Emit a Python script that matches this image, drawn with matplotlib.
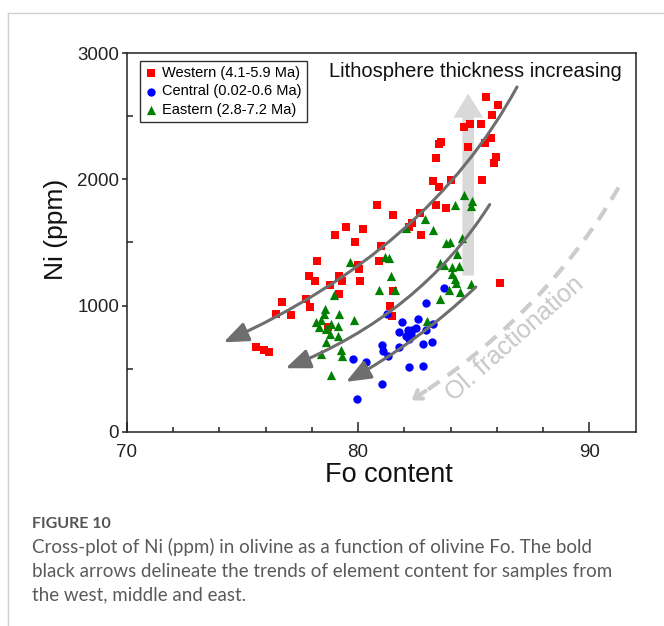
import numpy as np
import matplotlib
matplotlib.use("Agg")
import matplotlib.pyplot as plt
from matplotlib.patches import FancyArrowPatch, FancyArrow
from matplotlib.path import Path
from matplotlib.lines import Line2D

# -------- Data: olivine Fo vs Ni (ppm) --------
west_fo = [85.52, 86.06, 85.80, 85.30, 84.82, 84.58, 85.73, 85.49, 84.74, 83.58,
           83.50, 83.39, 85.95, 85.87, 85.37, 83.25, 84.02, 83.50, 83.39, 83.79,
           80.80, 81.52, 82.67, 82.33, 82.18, 82.73, 80.20, 79.48, 78.99, 79.88,
           80.99, 78.22, 80.89, 80.00, 80.03, 77.90, 78.12, 79.19, 79.31, 80.08,
           78.79, 79.16, 76.72, 77.76, 77.93, 76.46, 77.11, 81.38, 81.46, 81.49,
           75.57, 75.93, 76.15, 86.15, 78.69]
west_ni = [2654, 2590, 2511, 2443, 2443, 2417, 2332, 2292, 2258, 2300,
           2280, 2166, 2174, 2134, 1995, 1990, 1995, 1937, 1797, 1773,
           1797, 1721, 1731, 1652, 1620, 1557, 1607, 1620, 1563, 1507,
           1476, 1357, 1357, 1325, 1291, 1231, 1194, 1238, 1194, 1194,
           1167, 1094, 1028, 1054, 989, 930, 928, 996, 920, 1115,
           672, 646, 635, 1178, 830]

cent_fo = [83.72, 82.93, 81.23, 81.90, 82.61, 83.22, 81.75, 82.15, 82.35, 82.52,
           82.07, 82.21, 82.93, 81.03, 82.79, 83.19, 81.78, 81.06, 81.29, 79.77,
           80.34, 82.21, 82.79, 81.03, 79.94, 82.29]
cent_ni = [1141, 1022, 930, 867, 893, 851, 788, 804, 809, 825,
           762, 736, 804, 685, 693, 714, 672, 640, 604, 580,
           554, 514, 519, 377, 256, 765]

east_fo = [84.57, 84.93, 84.90, 84.19, 82.90, 82.06, 83.26, 83.79, 83.98, 84.51,
           84.29, 81.18, 81.32, 79.65, 83.53, 83.72, 84.05, 84.37, 84.08, 84.19,
           84.25, 84.87, 83.94, 84.40, 83.53, 81.43, 81.61, 80.92, 78.98, 79.19,
           78.55, 78.51, 78.19, 78.41, 78.30, 78.62, 78.84, 79.12, 78.79, 79.12,
           78.62, 79.81, 83.00, 79.27, 79.31, 78.40, 78.83]
east_ni = [1879, 1831, 1792, 1800, 1686, 1615, 1599, 1494, 1507, 1536,
           1410, 1383, 1378, 1344, 1336, 1318, 1305, 1310, 1252, 1212,
           1178, 1173, 1125, 1107, 1054, 1231, 1120, 1125, 1080, 936,
           975, 936, 870, 883, 830, 817, 851, 836, 778, 759,
           712, 888, 877, 646, 598, 614, 453]

labels = ["Western (4.1-5.9 Ma)", "Central (0.02-0.6 Ma)", "Eastern (2.8-7.2 Ma)"]

# trend arrows: tail, mid-curve point, tip (Fo, Ni)
trend_arrows = [
    [(86.87, 2733), (81.78, 1579), (74.19, 709)],
    [(85.69, 1801), (81.98, 1040), (76.87, 503)],
    [(85.09, 1147), (82.45, 743), (79.48, 395)],
]
# olivine fractionation trend (dashed)
ol_trend = [(91.26, 1936), (87.38, 1002), (82.21, 237)]
# lithosphere arrow: x, base, top
litho_x, litho_y0, litho_y1 = 84.76, 1238, 2680

caption_title = "FIGURE 10"
caption_lines = [
    "Cross-plot of Ni (ppm) in olivine as a function of olivine Fo. The bold",
    "black arrows delineate the trends of element content for samples from",
    "the west, middle and east.",
]

plt.rcParams["font.family"] = ["Liberation Sans", "DejaVu Sans"]

fig = plt.figure(figsize=(6.64, 6.26), dpi=100)
W, H = 664, 626
ax = fig.add_axes([126.7 / W, 1 - 431.7 / H, 509 / W, 378.4 / H])


def bezier(p0, pm, p2, n=100):
    p0, pm, p2 = np.array(p0, float), np.array(pm, float), np.array(p2, float)
    c = 2 * pm - (p0 + p2) / 2
    t = np.linspace(0, 1, n)[:, None]
    return (1 - t) ** 2 * p0 + 2 * (1 - t) * t * c + t ** 2 * p2, c


# lithosphere thickness arrow (behind points)
ax.add_patch(FancyArrow(litho_x, litho_y0, 0, litho_y1 - litho_y0, width=0.50,
                        head_width=1.29, head_length=190, length_includes_head=True,
                        color="#d9d9d9", lw=0, zorder=1))

# Ol. fractionation dashed curve
pts, _ = bezier(*ol_trend)
ax.plot(pts[:-3, 0], pts[:-3, 1], color="#cccccc", lw=3, dashes=(3.4, 2.4),
        solid_capstyle="butt", zorder=1)
ax.annotate("", xy=pts[-1], xytext=pts[-8],
            arrowprops=dict(arrowstyle="->,head_length=0.5,head_width=0.35",
                            color="#cccccc", lw=3), zorder=1)

# scatter
ax.scatter(west_fo, west_ni, marker="s", s=27, color="#ff0000", lw=0, zorder=3, label=labels[0])
ax.scatter(cent_fo, cent_ni, marker="o", s=36, color="#0000ff", lw=0, zorder=3, label=labels[1])
ax.scatter(east_fo, east_ni, marker="^", s=44, color="#008000", lw=0, zorder=3, label=labels[2])

# trend arrows
for tail, mid, tip in trend_arrows:
    _, c = bezier(tail, mid, tip)
    path = Path([tail, tuple(c), tip], [Path.MOVETO, Path.CURVE3, Path.CURVE3])
    ax.add_patch(FancyArrowPatch(path=path,
                                 arrowstyle="-|>,head_length=15,head_width=6",
                                 mutation_scale=1, color="#6e6e6e", lw=2.2, zorder=4))

ax.text(0.397, 0.951, "Lithosphere thickness increasing", transform=ax.transAxes,
        fontsize=14.5, ha="left", va="center", color="#111111", zorder=5)
ax.text(0.763, 0.245, "Ol. fractionation", transform=ax.transAxes, fontsize=18,
        rotation=41.5, rotation_mode="anchor", ha="center", va="center",
        color="#c8c8c8", zorder=1)

ax.set_xlim(70, 92)
ax.set_ylim(0, 3000)
ax.set_xticks([70, 80, 90])
ax.set_xticks(np.arange(72, 92, 2), minor=True)
ax.set_yticks([0, 1000, 2000, 3000])
ax.set_yticks([500, 1500, 2500], minor=True)
ax.tick_params(axis="x", which="major", direction="in", length=7, width=1.1,
               labelsize=13.5, pad=9, top=False, colors="#222222")
ax.tick_params(axis="x", which="minor", direction="in", length=3.5, width=1.1, top=False,
               colors="#222222")
ax.tick_params(axis="y", which="major", direction="out", length=3.5, width=1.1,
               labelsize=13.5, pad=2, right=False, colors="#222222")
ax.tick_params(axis="y", which="minor", direction="in", length=4.5, width=1.1, right=False,
               colors="#222222")
for sp in ax.spines.values():
    sp.set_linewidth(1.1)
    sp.set_color("#222222")

fig.text(389 / W, 1 - 475 / H, "Fo content", fontsize=19.5, ha="center", va="center",
         color="#111111")
fig.text(55.7 / W, 1 - 229 / H, "Ni (ppm)", fontsize=19, rotation=90, ha="center",
         va="center", color="#111111")

leg = ax.legend(loc="upper left", bbox_to_anchor=(0.026, 0.980), borderaxespad=0,
                fontsize=10.5, frameon=True, fancybox=False, edgecolor="#333333",
                framealpha=1, borderpad=0.35, handlelength=0.8, handletextpad=0.38,
                labelspacing=0.31, scatterpoints=1)
leg.get_frame().set_linewidth(1.0)

# card border and caption
fig.add_artist(Line2D([8 / W, 8 / W], [0, 1 - 13 / H], color="#d0d0d0", lw=1))
fig.add_artist(Line2D([8 / W, 1], [1 - 13 / H, 1 - 13 / H], color="#d0d0d0", lw=1))

fig.text(32 / W, 1 - 527.5 / H, caption_title, fontsize=11.5, fontweight="bold",
         family=["Lato", "DejaVu Sans"], color="#555555", va="baseline")
for i, line in enumerate(caption_lines):
    fig.text(32 / W, 1 - (553.5 + 23.3 * i) / H, line, fontsize=13.5,
             family=["Lato", "DejaVu Sans"], color="#5a5a5a", va="baseline")

fig.savefig("out.png", dpi=100)
